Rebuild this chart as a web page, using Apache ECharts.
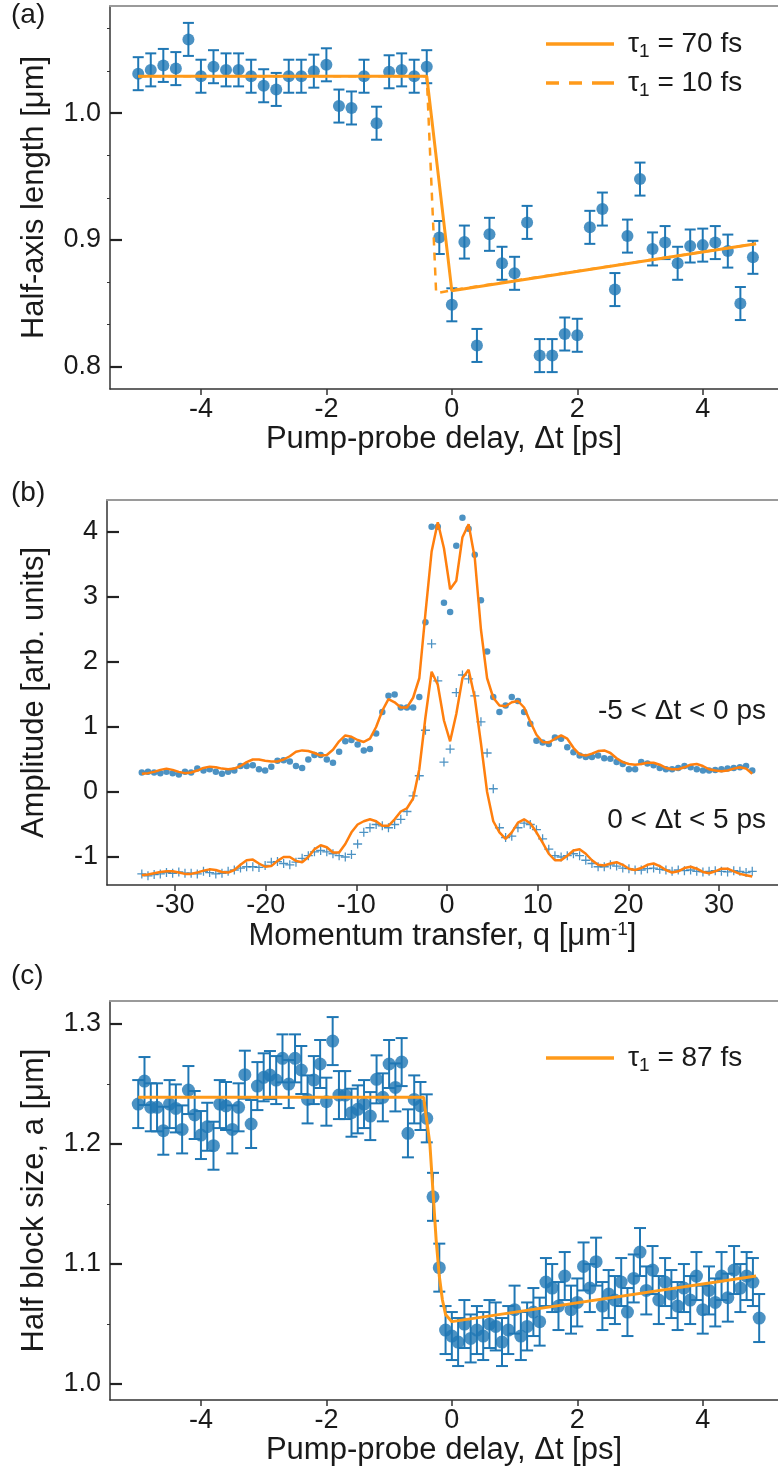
<!DOCTYPE html>
<html><head><meta charset="utf-8">
<script src="https://cdn.jsdelivr.net/npm/echarts@6/dist/echarts.min.js"></script>
<style>html,body{margin:0;padding:0;background:#fff}#c{width:778px;height:1470px}</style>
</head><body><div id="c"></div>
<script>
// ---------- Panel (a) ----------
const timeA = [-5.0,-4.8,-4.6,-4.4,-4.2,-4.0,-3.8,-3.6,-3.4,-3.2,-3.0,-2.8,-2.6,-2.4,-2.2,-2.0,-1.8,-1.6,-1.4,-1.2,-1.0,-0.8,-0.6,-0.4,-0.2,0.0,0.2,0.4,0.6,0.8,1.0,1.2,1.4,1.6,1.8,2.0,2.2,2.4,2.6,2.8,3.0,3.2,3.4,3.6,3.8,4.0,4.2,4.4,4.6,4.8];
const halfAxis = [1.031,1.034,1.0375,1.035,1.058,1.029,1.0365,1.034,1.034,1.029,1.0215,1.0186,1.029,1.029,1.033,1.038,1.0055,1.004,1.029,0.992,1.0325,1.034,1.029,1.0365,0.902,0.849,0.8984,0.817,0.9045,0.8817,0.8738,0.9139,0.809,0.809,0.826,0.825,0.910,0.9244,0.861,0.9031,0.948,0.893,0.898,0.8817,0.8953,0.896,0.898,0.8913,0.850,0.8864];
const halfAxisErr = 0.013;
const fitTau70 = [[-5.0,1.029],[-0.4,1.029],[0.0,0.860],[4.85,0.897]];
const fitTau10 = [[-5.0,1.029],[-0.4,1.029],[-0.25,0.858],[0.0,0.8605],[4.85,0.897]];
const ticksA_x = [-4,-2,0,2,4];
const ticksA_y = [0.8,0.9,1.0];
const minorA_y = [0.8333,0.8667,0.9333,0.9667,1.0333,1.0667];

// ---------- Panel (b) ----------
const qB = [-33.66,-32.98,-32.3,-31.62,-30.94,-30.26,-29.58,-28.9,-28.22,-27.54,-26.86,-26.18,-25.5,-24.82,-24.14,-23.46,-22.78,-22.1,-21.42,-20.74,-20.06,-19.38,-18.7,-18.02,-17.34,-16.66,-15.98,-15.3,-14.62,-13.94,-13.26,-12.58,-11.9,-11.22,-10.54,-9.86,-9.18,-8.5,-7.82,-7.14,-6.46,-5.78,-5.1,-4.42,-3.74,-3.06,-2.38,-1.7,-1.02,-0.34,0.34,1.02,1.7,2.38,3.06,3.74,4.42,5.1,5.78,6.46,7.14,7.82,8.5,9.18,9.86,10.54,11.22,11.9,12.58,13.26,13.94,14.62,15.3,15.98,16.66,17.34,18.02,18.7,19.38,20.06,20.74,21.42,22.1,22.78,23.46,24.14,24.82,25.5,26.18,26.86,27.54,28.22,28.9,29.58,30.26,30.94,31.62,32.3,32.98,33.66];
const ampBefore = [0.30,0.31,0.30,0.29,0.31,0.29,0.27,0.31,0.30,0.36,0.33,0.35,0.31,0.28,0.31,0.33,0.40,0.40,0.41,0.35,0.33,0.39,0.48,0.49,0.47,0.40,0.37,0.50,0.57,0.57,0.50,0.45,0.62,0.78,0.80,0.73,0.64,0.66,0.90,1.23,1.48,1.50,1.30,1.30,1.30,1.46,2.61,4.08,4.08,2.91,2.77,3.79,4.22,4.05,3.65,2.95,2.16,1.46,1.23,1.33,1.46,1.40,1.23,1.05,0.79,0.76,0.74,0.84,0.82,0.69,0.61,0.56,0.54,0.54,0.56,0.52,0.51,0.46,0.43,0.35,0.35,0.46,0.44,0.41,0.37,0.35,0.35,0.37,0.40,0.38,0.35,0.33,0.33,0.34,0.35,0.36,0.37,0.38,0.40,0.33];
const fitBefore = [0.28,0.29,0.31,0.34,0.36,0.34,0.31,0.29,0.30,0.33,0.37,0.39,0.38,0.36,0.35,0.36,0.40,0.46,0.50,0.50,0.48,0.47,0.47,0.50,0.55,0.62,0.64,0.63,0.60,0.56,0.57,0.65,0.78,0.87,0.85,0.80,0.77,0.82,1.00,1.25,1.43,1.38,1.30,1.30,1.45,1.75,2.75,3.70,4.15,3.75,3.12,3.25,3.92,4.12,3.60,2.50,1.75,1.45,1.33,1.32,1.38,1.40,1.30,1.08,0.88,0.77,0.76,0.82,0.87,0.82,0.68,0.58,0.56,0.59,0.63,0.64,0.60,0.52,0.46,0.43,0.42,0.43,0.45,0.45,0.42,0.37,0.35,0.35,0.38,0.42,0.43,0.40,0.35,0.33,0.32,0.33,0.36,0.38,0.36,0.28];
const ampAfter = [-1.26,-1.29,-1.27,-1.26,-1.24,-1.25,-1.23,-1.25,-1.25,-1.26,-1.22,-1.24,-1.26,-1.25,-1.22,-1.20,-1.17,-1.15,-1.15,-1.16,-1.13,-1.08,-1.07,-1.10,-1.12,-1.08,-1.02,-0.98,-0.92,-0.90,-0.92,-0.95,-0.98,-1.00,-0.96,-0.80,-0.62,-0.55,-0.50,-0.52,-0.55,-0.50,-0.42,-0.30,-0.06,0.25,0.95,2.28,1.71,0.46,0.66,1.53,1.80,1.74,1.48,1.08,0.60,0.05,-0.55,-0.70,-0.68,-0.55,-0.48,-0.50,-0.58,-0.72,-0.88,-0.98,-1.00,-0.98,-0.95,-0.98,-1.05,-1.10,-1.15,-1.15,-1.12,-1.14,-1.17,-1.18,-1.20,-1.20,-1.18,-1.17,-1.19,-1.20,-1.22,-1.20,-1.21,-1.20,-1.22,-1.23,-1.22,-1.21,-1.22,-1.23,-1.21,-1.22,-1.24,-1.22];
const fitAfter = [-1.28,-1.27,-1.25,-1.23,-1.22,-1.22,-1.24,-1.26,-1.26,-1.24,-1.21,-1.19,-1.20,-1.23,-1.24,-1.20,-1.12,-1.05,-1.04,-1.10,-1.15,-1.14,-1.06,-1.00,-1.00,-1.06,-1.08,-1.00,-0.88,-0.82,-0.85,-0.93,-0.93,-0.80,-0.62,-0.50,-0.45,-0.42,-0.45,-0.52,-0.52,-0.42,-0.30,-0.25,-0.10,0.35,1.15,1.85,1.65,1.10,0.78,1.20,1.75,1.88,1.45,0.75,0.00,-0.45,-0.62,-0.72,-0.62,-0.47,-0.42,-0.48,-0.62,-0.78,-0.95,-1.05,-1.05,-0.98,-0.90,-0.88,-0.95,-1.05,-1.12,-1.13,-1.10,-1.08,-1.12,-1.18,-1.20,-1.17,-1.12,-1.10,-1.14,-1.20,-1.24,-1.22,-1.17,-1.15,-1.18,-1.23,-1.25,-1.22,-1.18,-1.18,-1.22,-1.26,-1.28,-1.30];
const ticksB_x = [-30,-20,-10,0,10,20,30];
const ticksB_y = [-1,0,1,2,3,4];

// ---------- Panel (c) ----------
const timeC = [-5.0,-4.9,-4.8,-4.7,-4.6,-4.5,-4.4,-4.3,-4.2,-4.1,-4.0,-3.9,-3.8,-3.7,-3.6,-3.5,-3.4,-3.3,-3.2,-3.1,-3.0,-2.9,-2.8,-2.7,-2.6,-2.5,-2.4,-2.3,-2.2,-2.1,-2.0,-1.9,-1.8,-1.7,-1.6,-1.5,-1.4,-1.3,-1.2,-1.1,-1.0,-0.9,-0.8,-0.7,-0.6,-0.5,-0.4,-0.3,-0.2,-0.1,0.0,0.1,0.2,0.3,0.4,0.5,0.6,0.7,0.8,0.9,1.0,1.1,1.2,1.3,1.4,1.5,1.6,1.7,1.8,1.9,2.0,2.1,2.2,2.3,2.4,2.5,2.6,2.7,2.8,2.9,3.0,3.1,3.2,3.3,3.4,3.5,3.6,3.7,3.8,3.9,4.0,4.1,4.2,4.3,4.4,4.5,4.6,4.7,4.8,4.9];
const blockSize = [1.2333,1.2525,1.2306,1.2306,1.2111,1.2333,1.2297,1.2122,1.245,1.2242,1.2075,1.2144,1.1986,1.2333,1.2317,1.2122,1.2306,1.2578,1.2167,1.2483,1.2556,1.2575,1.2533,1.2714,1.25,1.2714,1.2617,1.2372,1.2533,1.2667,1.2353,1.2858,1.2408,1.2408,1.2261,1.2289,1.2333,1.2233,1.2539,1.2389,1.2667,1.2472,1.2683,1.2089,1.2372,1.2317,1.2214,1.156,1.097,1.045,1.040,1.035,1.050,1.038,1.045,1.040,1.050,1.048,1.035,1.045,1.062,1.040,1.048,1.060,1.052,1.085,1.080,1.065,1.090,1.062,1.068,1.098,1.080,1.102,1.065,1.075,1.070,1.085,1.060,1.088,1.110,1.078,1.095,1.070,1.085,1.075,1.065,1.080,1.070,1.090,1.062,1.078,1.068,1.090,1.072,1.095,1.080,1.090,1.085,1.055];
const blockErr = 0.02;
const fitTau87 = [[-5.0,1.239],[-0.45,1.239],[-0.35,1.20],[-0.3,1.16],[-0.25,1.12],[-0.2,1.09],[-0.15,1.07],[-0.1,1.058],[0.0,1.052],[4.85,1.09]];
const ticksC_x = [-4,-2,0,2,4];
const ticksC_y = [1.0,1.1,1.2,1.3];
const minorC_y = [1.05,1.15,1.25];

// ---------- styling ----------
const FONT = "'Liberation Sans', Arial, sans-serif";
const TXT = '#1a1a1a';
const BLUE = '#1f77b4';
const ORANGE_A = '#ff9a1a';
const ORANGE_B = '#ff7f0e';
const FS = 27;      // tick labels
const FL = 28;      // legend, notes
const FT = 31;      // axis titles

const chart = echarts.init(document.getElementById('c'), null, {renderer:'canvas'});

function bottomAxis(grid, min, max, ticks, name, extra) {
  return Object.assign({
    type:'value', gridIndex:grid, min, max, position:'bottom',
    axisLine:{show:true, onZero:false, lineStyle:{color:'#333', width:1.5}},
    axisTick:{show:true, inside:false, length:6, customValues:ticks, lineStyle:{color:'#333', width:1.5}},
    axisLabel:{show:true, customValues:ticks, fontSize:FS, color:TXT, fontFamily:FONT, margin:7},
    splitLine:{show:false},
    name, nameLocation:'middle', nameGap:28,
    nameTextStyle:{fontSize:FT, color:TXT, fontFamily:FONT}
  }, extra || {});
}
function topFrame(grid, min, max) {
  return {type:'value', gridIndex:grid, min, max, position:'top',
    axisLine:{show:true, onZero:false, lineStyle:{color:'#9a9a9a', width:2}},
    axisTick:{show:false}, axisLabel:{show:false}, splitLine:{show:false}};
}
function leftAxis(grid, min, max, ticks, name, fmt, gap) {
  return {type:'value', gridIndex:grid, min, max, position:'left',
    axisLine:{show:true, onZero:false, lineStyle:{color:'#333', width:1.5}},
    axisTick:{show:true, inside:true, length:12, customValues:ticks, lineStyle:{color:'#222', width:2.2}},
    axisLabel:{show:true, customValues:ticks, fontSize:FS, color:TXT, fontFamily:FONT, margin:9, formatter:fmt},
    splitLine:{show:false},
    name, nameLocation:'middle', nameGap:gap,
    nameTextStyle:{fontSize:FT, color:TXT, fontFamily:FONT}};
}
function minorAxis(grid, min, max, ticks) {
  return {type:'value', gridIndex:grid, min, max, position:'left', offset:0,
    axisLine:{show:false, onZero:false},
    axisTick:{show:true, inside:false, length:3, customValues:ticks, lineStyle:{color:'#333', width:1}},
    axisLabel:{show:false}, splitLine:{show:false}};
}
function errorBars(xi, yi, xs, ys, err, cap, lw) {
  return {type:'custom', xAxisIndex:xi, yAxisIndex:yi, silent:true, z:2,
    renderItem:(params, api) => {
      const x = api.value(0), y = api.value(1), e = api.value(2);
      const t = api.coord([x, y + e]), b = api.coord([x, y - e]);
      const st = {stroke:BLUE, lineWidth:lw};
      return {type:'group', children:[
        {type:'line', shape:{x1:t[0], y1:t[1], x2:b[0], y2:b[1]}, style:st},
        {type:'line', shape:{x1:t[0]-cap/2, y1:t[1], x2:t[0]+cap/2, y2:t[1]}, style:st},
        {type:'line', shape:{x1:b[0]-cap/2, y1:b[1], x2:b[0]+cap/2, y2:b[1]}, style:st}
      ]};
    },
    data: xs.map((x, i) => [x, ys[i], err])
  };
}
const pair = (xs, ys) => xs.map((x, i) => [x, ys[i]]);
const legendRich = {
  a:{fontSize:FL, fontFamily:FONT, color:TXT, lineHeight:34},
  b:{fontSize:19, fontFamily:FONT, color:TXT, lineHeight:22, verticalAlign:'bottom'}
};
const legendFmt = n => '{a|τ}{b|1}{a|' + n.slice(2) + '}';
const SOLID_ICON = 'path://M0,0 L68,0 L68,3.5 L0,3.5 Z';
const DASH_ICON = 'path://M0,0 h13 v3.5 h-13 Z M23,0 h13 v3.5 h-13 Z M46,0 h22 v3.5 h-22 Z';
const PLUS = 'path://M0,4.3 L10,4.3 L10,5.7 L0,5.7 Z M4.3,0 L5.7,0 L5.7,10 L4.3,10 Z';

const option = {
  animation:false,
  backgroundColor:'#fff',
  textStyle:{fontFamily:FONT},
  grid:[
    {left:110, top:6, width:668, height:383},
    {left:107, top:500, width:671, height:385},
    {left:110, top:1001, width:668, height:399}
  ],
  xAxis:[
    bottomAxis(0, -5.45, 5.2, ticksA_x, 'Pump-probe delay, Δt [ps]'),
    topFrame(0, -5.45, 5.2),
    bottomAxis(1, -37.5, 36.5, ticksB_x, '{a|Momentum transfer, q [μm}{s|-1}{a|]}', {
      nameTextStyle:{fontSize:FT, color:TXT, fontFamily:FONT, rich:{
        a:{fontSize:FT, fontFamily:FONT, color:TXT, lineHeight:34},
        s:{fontSize:19, fontFamily:FONT, color:TXT, lineHeight:34, verticalAlign:'top', padding:[0,0,12,0]}}}
    }),
    topFrame(1, -37.5, 36.5),
    bottomAxis(2, -5.45, 5.2, ticksC_x, 'Pump-probe delay, Δt [ps]'),
    topFrame(2, -5.45, 5.2)
  ],
  yAxis:[
    leftAxis(0, 0.7827, 1.0843, ticksA_y, 'Half-axis length [μm]', v => v.toFixed(1), 60),
    minorAxis(0, 0.7827, 1.0843, minorA_y),
    leftAxis(1, -1.4308, 4.4923, ticksB_y, 'Amplitude [arb. units]', v => String(v), 57),
    leftAxis(2, 0.9867, 1.3192, ticksC_y, 'Half block size, a [μm]', v => v.toFixed(1), 60),
    minorAxis(2, 0.9867, 1.3192, minorC_y)
  ],
  legend:[
    {orient:'vertical', left:541, top:25, itemWidth:68, itemHeight:3.5, itemGap:8,
     data:[{name:'τ1 = 70 fs', icon:SOLID_ICON},{name:'τ1 = 10 fs', icon:DASH_ICON}], formatter:legendFmt,
     textStyle:{rich:legendRich, padding:[0,0,0,9]}, selectedMode:false},
    {orient:'vertical', left:541, top:1039, itemWidth:68, itemHeight:3.5,
     data:[{name:'τ1 = 87 fs', icon:SOLID_ICON}], formatter:legendFmt,
     textStyle:{rich:legendRich, padding:[0,0,0,9]}, selectedMode:false}
  ],
  graphic:[
    {type:'text', left:11, top:1, style:{text:'(a)', fontSize:FL, fontFamily:FONT, fill:TXT}},
    {type:'text', left:11, top:479, style:{text:'(b)', fontSize:FL, fontFamily:FONT, fill:TXT}},
    {type:'text', left:11, top:962, style:{text:'(c)', fontSize:FL, fontFamily:FONT, fill:TXT}},
    {type:'text', right:12, top:697, style:{text:'-5 < Δt < 0 ps', fontSize:FL, fontFamily:FONT, fill:TXT}},
    {type:'text', right:12, top:806, style:{text:'0 < Δt < 5 ps', fontSize:FL, fontFamily:FONT, fill:TXT}}
  ],
  series:[
    // (a)
    errorBars(0, 0, timeA, halfAxis, halfAxisErr, 11, 2),
    {type:'scatter', name:'a-data', xAxisIndex:0, yAxisIndex:0, symbol:'circle', symbolSize:12,
     itemStyle:{color:BLUE}, data:pair(timeA, halfAxis), z:3},
    {type:'line', name:'τ1 = 10 fs', xAxisIndex:0, yAxisIndex:0, symbol:'none', z:4,
     lineStyle:{color:ORANGE_A, width:2.5, type:[8,7]}, itemStyle:{color:ORANGE_A}, data:fitTau10},
    {type:'line', name:'τ1 = 70 fs', xAxisIndex:0, yAxisIndex:0, symbol:'none', z:5,
     lineStyle:{color:ORANGE_A, width:3}, itemStyle:{color:ORANGE_A}, data:fitTau70},
    // (b)
    {type:'scatter', name:'b-before', xAxisIndex:2, yAxisIndex:2, symbol:'circle', symbolSize:6.5,
     itemStyle:{color:BLUE}, data:pair(qB, ampBefore), z:3},
    {type:'scatter', name:'b-after', xAxisIndex:2, yAxisIndex:2, symbol:PLUS, symbolSize:9,
     itemStyle:{color:BLUE}, data:pair(qB, ampAfter), z:3},
    {type:'line', name:'b-fit-before', xAxisIndex:2, yAxisIndex:2, symbol:'none', z:4,
     lineStyle:{color:ORANGE_B, width:2.5}, data:pair(qB, fitBefore)},
    {type:'line', name:'b-fit-after', xAxisIndex:2, yAxisIndex:2, symbol:'none', z:4,
     lineStyle:{color:ORANGE_B, width:2.5}, data:pair(qB, fitAfter)},
    // (c)
    errorBars(4, 3, timeC, blockSize, blockErr, 12, 2),
    {type:'scatter', name:'c-data', xAxisIndex:4, yAxisIndex:3, symbol:'circle', symbolSize:13,
     itemStyle:{color:BLUE}, data:pair(timeC, blockSize), z:3},
    {type:'line', name:'τ1 = 87 fs', xAxisIndex:4, yAxisIndex:3, symbol:'none', z:5,
     lineStyle:{color:ORANGE_A, width:3}, itemStyle:{color:ORANGE_A}, data:fitTau87}
  ]
};
chart.setOption(option);
</script></body></html>
